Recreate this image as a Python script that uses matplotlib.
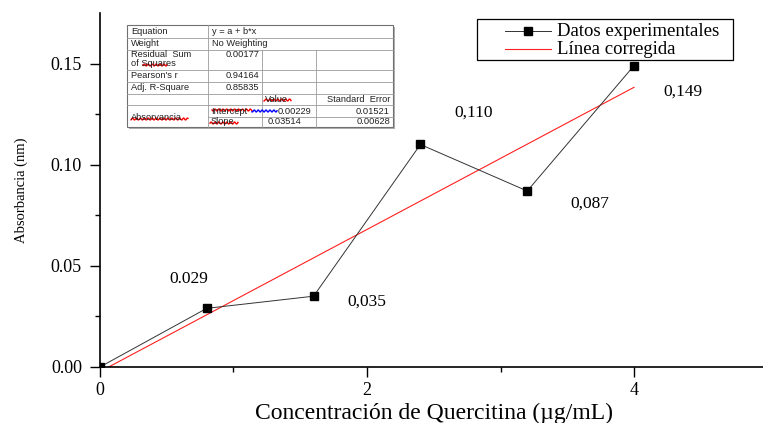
import numpy as np
import matplotlib
matplotlib.use("Agg")
import matplotlib.pyplot as plt
from matplotlib.patches import Rectangle

# calibration data
conc = [0.0, 0.8, 1.6, 2.4, 3.2, 4.0]
absorb = [0.0, 0.029, 0.035, 0.110, 0.087, 0.149]
point_labels = ["", "0.029", "0,035", "0,110", "0,087", "0,149"]
label_offsets = [(0, 0), (-13, 21), (38, -4), (38, 23), (45, -9), (35, -19)]

# linear fit y = a + b*x
intercept = -0.00229
slope = 0.03514

table_rows = [
    ["Equation", "y = a + b*x", "", ""],
    ["Weight", "No Weighting", "", ""],
    ["Residual  Sum\nof Squares", "0.00177", "", ""],
    ["Pearson's r", "0.94164", "", ""],
    ["Adj. R-Square", "0.85835", "", ""],
    ["", "", "Value", "Standard  Error"],
    ["Absorvancia", "Intercept", "0.00229", "0.01521"],
    ["", "Slope", "0.03514", "0.00628"],
]

serif = ["Liberation Serif", "DejaVu Serif"]
sans = ["Liberation Sans", "DejaVu Sans"]

W, H = 763, 423
fig = plt.figure(figsize=(W / 100, H / 100), dpi=100)
ax = fig.add_axes([0.131, 0.1324, 0.875, 0.8369])

line_style = dict(color="#333333", lw=0.7)
marker_style = dict(marker="s", ms=6, mfc="black", mec="black", ls="none")
fit_style = dict(color="#ff2020", lw=0.8)

x_fit = np.array([0.0, 4.0])
ax.plot(conc, absorb, zorder=3, **line_style)
ax.plot(conc, absorb, zorder=4, **marker_style)
ax.plot(x_fit, intercept + slope * x_fit, zorder=2, **fit_style)

for x, y, txt, off in zip(conc, absorb, point_labels, label_offsets):
    if txt:
        ax.annotate(txt, (x, y), xytext=off, textcoords="offset points",
                    ha="center", va="center", fontsize=12.5, family=serif)

ax.set_xlim(0, 5)
ax.set_ylim(0, 0.175)
ax.set_xticks([0, 2, 4])
ax.set_xticks([1, 3], minor=True)
ax.set_yticks([0.0, 0.05, 0.10, 0.15])
ax.set_yticks([0.025, 0.075, 0.125], minor=True)
ax.set_yticklabels(["0.00", "0.05", "0.10", "0.15"])
ax.tick_params(which="major", direction="out", length=7, width=1, labelsize=13)
ax.tick_params(axis="y", which="major", pad=6)
ax.tick_params(which="minor", direction="out", length=3.5, width=1)
for lbl in ax.get_xticklabels() + ax.get_yticklabels():
    lbl.set_family(serif)

ax.spines["top"].set_visible(False)
ax.spines["right"].set_visible(False)
ax.spines["left"].set_linewidth(1.2)
ax.spines["bottom"].set_linewidth(1.2)

ax.set_xlabel("Concentración de Quercitina (µg/mL)", family=serif, fontsize=17)
ax.xaxis.set_label_coords(0.5, -0.1)
ax.set_ylabel("Absorbancia (nm)", family=serif, fontsize=10.5)
ax.yaxis.set_label_coords(-0.108, 0.5)


def fx(px):
    return px / W


def fy(py):
    return 1 - py / H


def hline(x0, x1, y, **kw):
    fig.add_artist(plt.Line2D([fx(x0), fx(x1)], [fy(y), fy(y)], **kw))


def vline(x, y0, y1, **kw):
    fig.add_artist(plt.Line2D([fx(x), fx(x)], [fy(y0), fy(y1)], **kw))


# legend box
fig.add_artist(Rectangle((fx(477), fy(60)), fx(733 - 477), 41 / H,
                         facecolor="white", edgecolor="black", lw=0.9, zorder=5))
hline(505, 551, 31, zorder=6, **line_style)
fig.add_artist(plt.Line2D([fx(528)], [fy(31)], zorder=7, **marker_style))
hline(505, 551, 49, zorder=6, **fit_style)
fig.text(fx(557), fy(31), "Datos experimentales", family=serif, fontsize=13.5,
         va="center", zorder=6)
fig.text(fx(557), fy(49), "Línea corregida", family=serif, fontsize=13.5,
         va="center", zorder=6)

# fit summary table
col_x = [127, 208, 262, 316, 393]
row_y = [25, 38, 50, 70, 82, 94, 105, 117, 127]


def squiggle(x0, x1, y, color):
    xs = np.linspace(x0, x1, int((x1 - x0) * 2))
    ys = y + 1.0 * np.sin(xs * 1.6)
    fig.add_artist(plt.Line2D(fx(xs), fy(ys), color=color, lw=1.0))


fig.add_artist(Rectangle((fx(col_x[0] + 2), fy(row_y[-1] + 2)),
                         fx(col_x[-1] - col_x[0]), (row_y[-1] - row_y[0]) / H,
                         facecolor="#b0b0b0", edgecolor="none"))
fig.add_artist(Rectangle((fx(col_x[0]), fy(row_y[-1])),
                         fx(col_x[-1] - col_x[0]), (row_y[-1] - row_y[0]) / H,
                         facecolor="white", edgecolor="#707070", lw=0.8))

grid = dict(color="#9a9a9a", lw=0.6)
for i, yy in enumerate(row_y[1:-1], start=1):
    hline(col_x[1] if i == 7 else col_x[0], col_x[-1], yy, **grid)
vline(col_x[1], row_y[0], row_y[-1], **grid)
for cx in col_x[2:4]:
    vline(cx, row_y[2], row_y[-1], **grid)

tfont = dict(family=sans, fontsize=6.7, color="#222222")
for r, row in enumerate(table_rows):
    top, bot = row_y[r], row_y[r + 1]
    for c, txt in enumerate(row):
        if not txt:
            continue
        if r <= 1 or c == 0:
            ha, xx = "left", col_x[c] + 4
        elif r >= 5 and c <= 2:
            ha, xx = "left", col_x[c] + 3
        else:
            ha, xx = "right", col_x[c + 1] - 3
        if r in (6, 7) and c == 2:
            ha, xx = "right", col_x[c + 1] - (5 if r == 6 else 15)
        if r == 2:
            # two-line cell, first line near the top
            for k, part in enumerate(txt.split("\n")):
                fig.text(fx(xx), fy(top + 4.5 + 9.5 * k), part, ha=ha,
                         va="center", **tfont)
            continue
        yy = bot if (r == 6 and c == 0) else (top + bot) / 2
        fig.text(fx(xx), fy(yy), txt, ha=ha, va="center", **tfont)

# spell-check marks
squiggle(143, 167, 65, "red")
squiggle(131, 188, 119, "red")
squiggle(212, 252, 110, "red")
squiggle(252, 277, 111, "blue")
squiggle(264, 291, 100, "red")
squiggle(210, 238, 123, "red")

fig.savefig("out.png", dpi=100)
